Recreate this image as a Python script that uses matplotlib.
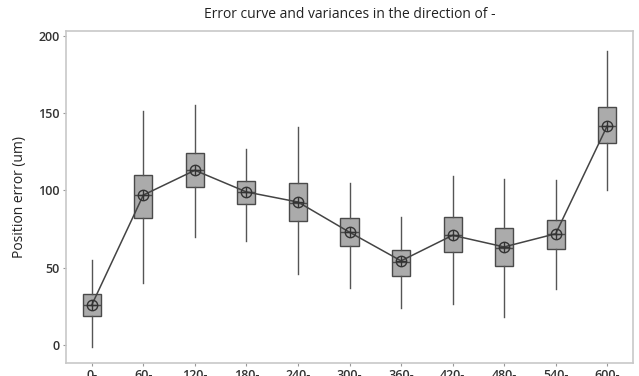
import matplotlib.pyplot as plt

plt.rcParams['font.family'] = ['Open Sans', 'DejaVu Sans']

# Data
categories = ["0-", "60-", "120-", "180-", "240-", "300-", "360-", "420-", "480-", "540-", "600-"]
whisker_low = [-1, 40, 70, 67, 46, 37, 24, 26.5, 18, 36, 100]
q1 = [19, 82, 102, 91, 80, 64, 45, 60, 51, 62, 130.5]
median = [26, 97, 113, 99, 92, 73, 54, 71, 63, 72, 141.5]
q3 = [33, 110, 124, 106, 105, 82, 61.5, 82.5, 75.5, 81, 154]
whisker_high = [55, 151, 155, 127, 141, 105, 83, 109, 107.5, 107, 190]
means = [26, 97, 113, 99, 92.5, 73, 54.5, 71, 63.5, 72, 141.7]

stats = []
for i, c in enumerate(categories):
    stats.append({
        "label": c,
        "whislo": whisker_low[i],
        "q1": q1[i],
        "med": median[i],
        "q3": q3[i],
        "whishi": whisker_high[i],
        "fliers": [],
    })

fig = plt.figure(figsize=(6.39, 3.76), dpi=100)
ax = fig.add_axes([0.1033, 0.0346, 0.8873, 0.883])

pos = list(range(len(categories)))
ax.bxp(stats, positions=pos, widths=0.35, patch_artist=True, showcaps=False,
       boxprops=dict(facecolor="#ababab", edgecolor="#4a4a4a", linewidth=1.0),
       medianprops=dict(color="#4a4a4a", linewidth=1.0),
       whiskerprops=dict(color="#555555", linewidth=1.0))

# mean connect line + circle-cross markers
ax.plot(pos, means, color="#444444", linewidth=1.1, zorder=4)
ax.plot(pos, means, linestyle="none", marker="o", markersize=7.5, markerfacecolor="none",
        markeredgecolor="#333333", markeredgewidth=1.0, zorder=5)
ax.plot(pos, means, linestyle="none", marker="+", markersize=7.5,
        markeredgecolor="#333333", markeredgewidth=1.0, zorder=5)

ax.set_xlim(-0.5, len(categories) - 0.5)
ax.set_ylim(-11.5, 203)
ax.set_yticks([0, 50, 100, 150, 200])
ax.set_xticks(pos)
ax.set_xticklabels(categories)

for sp in ax.spines.values():
    sp.set_color("#c8c8c8")
    sp.set_linewidth(1.2)
ax.tick_params(axis="both", colors="#999999", labelcolor="#333333", labelsize=9, length=2.5, pad=2)
for lab in ax.get_yticklabels() + ax.get_xticklabels():
    lab.set_fontweight("semibold")

ax.set_ylabel("Position error (um)", fontsize=10, color="#222222", labelpad=8)
ax.set_title("Error curve and variances in the direction of -", fontsize=10, color="#222222", pad=9)

fig.savefig("out.png", dpi=100)
